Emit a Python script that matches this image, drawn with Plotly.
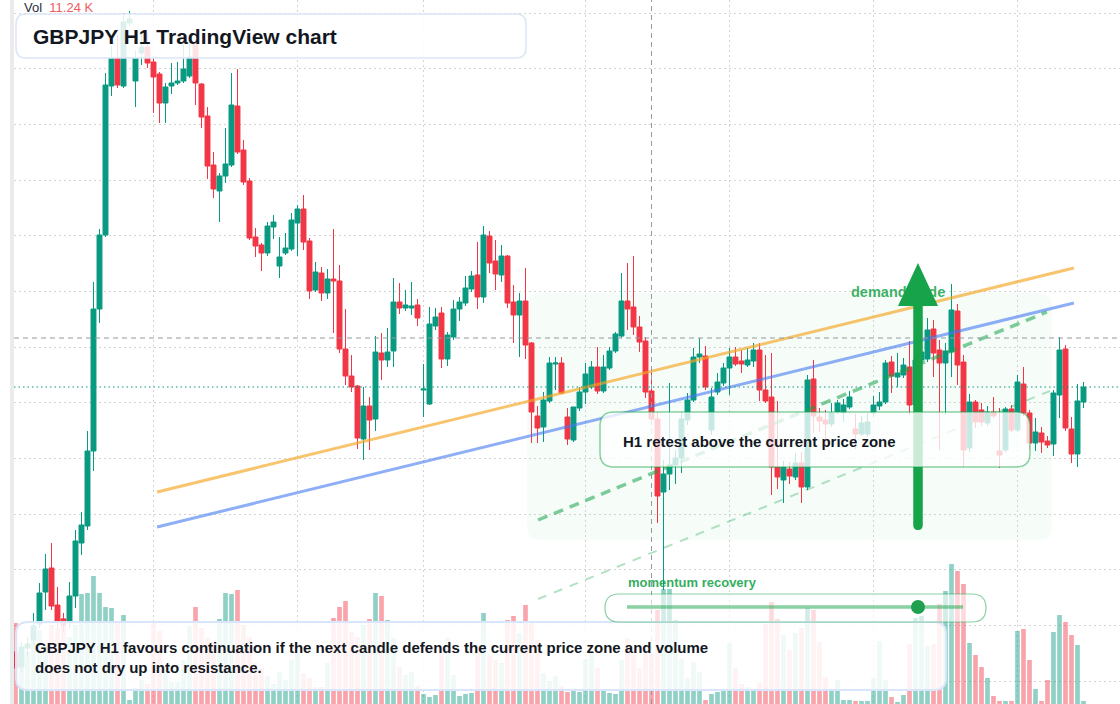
import plotly.graph_objects as go

# ---------------- data (GBPJPY H1) ----------------
OPEN = [200.52, 200.37, 200.56, 200.64, 200.80, 201.12, 201.36, 200.99, 200.85, 200.82,
        201.08, 201.61, 201.78, 202.53, 203.95, 204.69, 206.18, 206.46, 206.18, 206.81,
        206.23, 206.51, 206.57, 206.42, 206.30, 206.01, 206.18, 206.21, 206.23, 206.28,
        206.61, 206.20, 205.88, 205.39, 205.13, 205.28, 205.39, 205.98, 205.54, 205.23,
        204.67, 204.59, 204.51, 204.77, 204.38, 204.51, 204.55, 204.81, 204.95, 204.63,
        204.14, 204.31, 204.11, 204.25, 204.23, 203.55, 203.28, 203.18, 202.65, 202.98,
        202.85, 203.51, 203.44, 203.53, 204.02, 203.96, 203.96, 203.99, 203.14, 203.00,
        203.78, 203.91, 203.45, 203.67, 203.95, 204.01, 204.15, 204.29, 204.07, 204.68,
        204.43, 204.29, 204.48, 204.02, 203.89, 204.03, 203.61, 202.88, 202.77, 203.03,
        203.40, 203.41, 202.87, 202.64, 202.96, 203.12, 203.17, 203.37, 203.13, 203.36,
        203.53, 203.68, 204.03, 203.97, 203.77, 203.63, 203.13, 202.85, 202.12, 202.30,
        202.39, 202.46, 202.84, 203.04, 203.47, 203.48, 202.74, 203.12, 203.21, 203.36,
        203.47, 203.43, 203.39, 203.43, 203.54, 203.14, 203.07, 202.37, 202.24, 202.35,
        202.27, 202.41, 202.17, 203.25, 202.87, 202.84, 202.80, 202.92, 202.91, 202.97,
        202.75, 202.70, 202.70, 202.91, 202.98, 203.02, 203.42, 203.27, 203.29, 203.37,
        202.99, 203.44, 203.45, 203.75, 203.54, 203.41, 203.52, 203.93, 203.42, 202.56,
        203.02, 202.94, 202.81, 202.92, 202.53, 202.54, 202.95, 202.74, 203.20, 202.91,
        202.61, 202.71, 202.63, 202.60, 203.09, 203.55, 202.75, 202.50, 203.02]
HIGH = [200.59, 200.62, 200.67, 200.91, 201.21, 201.50, 201.61, 201.17, 200.91, 201.22,
        201.74, 201.92, 202.73, 204.22, 204.75, 206.31, 206.58, 206.69, 206.91, 206.93,
        206.54, 206.71, 206.71, 206.46, 206.32, 206.21, 206.41, 206.42, 206.61, 206.67,
        206.64, 206.21, 205.97, 205.52, 205.31, 205.76, 206.31, 206.35, 205.64, 205.26,
        204.76, 204.61, 204.82, 204.89, 204.67, 204.71, 204.91, 204.99, 205.09, 204.66,
        204.42, 204.37, 204.35, 204.75, 204.39, 203.95, 203.49, 203.19, 203.17, 203.07,
        203.68, 203.71, 203.76, 204.26, 204.21, 204.14, 204.22, 204.05, 203.40, 203.97,
        203.96, 203.97, 203.72, 204.04, 204.07, 204.28, 204.33, 204.62, 204.78, 204.73,
        204.64, 204.59, 204.49, 204.19, 204.11, 204.36, 203.62, 202.98, 203.12, 203.47,
        203.47, 203.47, 202.96, 202.97, 203.17, 203.41, 203.43, 203.57, 203.49, 203.57,
        203.72, 204.31, 204.41, 204.48, 203.88, 203.67, 203.32, 202.92, 202.44, 203.21,
        202.54, 202.92, 203.11, 203.56, 203.66, 203.58, 203.16, 203.31, 203.41, 203.56,
        203.57, 203.54, 203.56, 203.61, 203.61, 203.49, 203.51, 203.03, 202.43, 202.42,
        202.51, 202.52, 203.29, 203.44, 202.96, 202.94, 203.01, 203.04, 203.05, 203.13,
        202.90, 202.88, 202.91, 203.08, 203.12, 203.44, 203.48, 203.51, 203.46, 203.63,
        203.54, 203.59, 203.86, 203.84, 203.64, 203.61, 204.20, 204.00, 203.49, 203.10,
        203.04, 203.01, 202.98, 203.07, 202.96, 202.97, 202.99, 203.29, 203.37, 202.94,
        202.86, 202.77, 202.68, 203.14, 203.67, 203.59, 202.87, 203.20, 203.22]
LOW = [200.32, 200.32, 200.47, 200.59, 200.76, 200.94, 200.94, 200.76, 200.72, 200.76,
       200.96, 201.49, 201.74, 202.33, 203.81, 204.67, 206.08, 206.16, 206.16, 206.78,
       205.97, 206.39, 206.36, 205.91, 205.81, 205.81, 206.10, 206.19, 206.21, 206.26,
       205.99, 205.76, 205.25, 205.06, 204.82, 205.21, 205.37, 205.50, 205.19, 204.64,
       204.47, 204.33, 204.48, 204.65, 204.26, 204.49, 204.53, 204.48, 204.54, 204.05,
       204.12, 204.03, 204.05, 203.71, 203.51, 203.19, 203.12, 202.55, 202.44, 202.54,
       202.73, 203.24, 203.37, 203.37, 203.90, 203.93, 203.89, 203.78, 202.87, 202.99,
       203.74, 203.36, 203.38, 203.64, 203.83, 203.98, 204.12, 203.95, 204.01, 204.31,
       204.14, 204.22, 203.96, 203.61, 203.47, 203.45, 202.61, 202.61, 202.62, 203.01,
       203.14, 203.10, 202.59, 202.62, 202.93, 203.00, 203.15, 203.10, 203.11, 203.34,
       203.51, 203.66, 203.74, 203.69, 203.52, 203.06, 202.79, 201.81, 201.14, 202.14,
       202.20, 202.31, 202.79, 203.02, 203.41, 203.14, 202.69, 203.09, 203.18, 203.09,
       203.38, 203.31, 203.37, 203.37, 203.03, 203.01, 202.09, 202.15, 202.01, 202.20,
       202.24, 202.01, 202.14, 202.71, 202.72, 202.57, 202.77, 202.90, 202.82, 202.95,
       202.55, 202.68, 202.67, 202.87, 202.94, 203.00, 203.11, 203.17, 203.26, 202.89,
       202.94, 203.36, 203.42, 203.27, 202.54, 202.89, 203.27, 203.19, 202.37, 202.52,
       202.76, 202.78, 202.78, 202.86, 202.36, 202.52, 202.72, 202.72, 202.88, 202.54,
       202.53, 202.51, 202.56, 202.48, 202.86, 202.73, 202.41, 202.37, 202.96]
CLOSE = [200.36, 200.57, 200.60, 200.78, 201.11, 201.35, 200.98, 200.83, 200.79, 201.08,
         201.63, 201.79, 202.53, 203.95, 204.69, 206.19, 206.46, 206.19, 206.82, 206.85,
         206.46, 206.57, 206.41, 206.27, 206.01, 206.17, 206.21, 206.23, 206.35, 206.47,
         206.21, 205.87, 205.38, 205.15, 205.28, 205.40, 205.99, 205.52, 205.22, 204.66,
         204.58, 204.51, 204.78, 204.82, 204.47, 204.56, 204.84, 204.95, 204.62, 204.13,
         204.32, 204.11, 204.25, 204.23, 203.55, 203.28, 203.17, 202.66, 202.98, 202.84,
         203.52, 203.44, 203.52, 204.02, 203.96, 203.99, 203.98, 203.86, 203.15, 203.80,
         203.87, 203.45, 203.69, 203.95, 204.02, 204.16, 204.28, 204.07, 204.69, 204.41,
         204.30, 204.48, 204.01, 203.89, 204.03, 203.59, 202.92, 202.76, 203.04, 203.41,
         203.41, 203.11, 202.65, 202.97, 203.12, 203.30, 203.37, 203.13, 203.37, 203.53,
         203.70, 204.03, 203.95, 203.77, 203.62, 203.12, 202.85, 202.08, 202.30, 202.39,
         202.46, 202.85, 203.04, 203.47, 203.50, 203.17, 203.07, 203.22, 203.36, 203.47,
         203.40, 203.40, 203.44, 203.54, 203.14, 203.03, 202.37, 202.27, 202.37, 202.28,
         202.41, 202.17, 203.24, 202.88, 202.83, 202.80, 202.91, 203.01, 202.99, 203.07,
         202.70, 202.81, 202.82, 202.99, 203.02, 203.41, 203.28, 203.31, 203.39, 202.99,
         203.44, 203.52, 203.74, 203.51, 203.41, 203.53, 203.94, 203.39, 202.54, 203.02,
         202.82, 202.82, 202.92, 202.88, 202.49, 202.95, 202.74, 203.22, 202.91, 202.61,
         202.72, 202.62, 202.59, 203.11, 203.54, 202.76, 202.50, 203.03, 203.17]
VOLUME_K = [8.1, 5.7, 5.2, 7.8, 7.4, 5.9, 7.9, 7.6, 8.6, 6.7,
            7.9, 11.0, 11.1, 12.8, 11.1, 9.7, 9.6, 8.1, 8.9, 0.4,
            1.6, 2.4, 2.0, 8.1, 7.3, 3.7, 2.2, 2.2, 4.4, 7.8,
            9.7, 7.6, 6.6, 6.2, 8.5, 11.1, 11.0, 11.4, 7.9, 6.7,
            4.1, 3.6, 2.8, 2.0, 3.2, 2.4, 4.4, 5.1, 3.1, 2.6,
            1.7, 1.7, 4.1, 8.6, 9.7, 10.3, 7.2, 6.7, 7.9, 8.5,
            11.1, 10.8, 8.4, 6.6, 3.7, 2.9, 3.2, 1.8, 1.0, 0.7,
            0.9, 5.2, 6.6, 2.9, 0.8, 1.0, 1.1, 5.7, 9.1, 4.8,
            4.4, 4.1, 8.4, 8.8, 7.1, 9.9, 8.1, 6.4, 3.1, 2.3,
            2.8, 1.8, 1.2, 1.4, 1.2, 4.5, 5.2, 3.6, 1.3, 1.1,
            1.0, 4.4, 6.6, 4.9, 3.6, 5.1, 5.1, 9.4, 11.5, 11.5,
            8.4, 4.5, 2.6, 4.2, 3.2, 0.4, 1.0, 1.2, 1.4, 6.1,
            3.6, 2.0, 1.7, 1.4, 2.1, 8.0, 10.2, 8.5, 6.9, 5.4,
            7.1, 7.6, 9.6, 9.4, 6.2, 2.7, 1.3, 2.4, 0.4, 0.4,
            0.3, 0.3, 0.3, 2.6, 6.3, 2.4, 0.7, 0.2, 0.9, 6.0,
            8.6, 8.8, 5.8, 6.0, 10.0, 11.3, 14.0, 13.3, 12.0, 6.1,
            4.9, 3.7, 2.6, 0.8, 0.3, 0.3, 0.3, 7.3, 7.5, 4.4,
            1.5, 0.3, 2.4, 7.2, 8.9, 8.2, 6.9, 5.9, 0.3]

SESSION_BARS = [23, 47, 68, 95, 119, 143, 167]      # vertical time grid
CROSSHAIR_BAR = 106
CROSSHAIR_PRICE = 203.66
ORANGE_TREND_X = [23.6, 176.4]
ORANGE_TREND_Y = [202.12, 204.36]
BLUE_TREND_X = [23.6, 176.4]
BLUE_TREND_Y = [201.77, 204.01]
GREEN_DASH_X = [87.1, 171.9]
GREEN_DASH_Y = [201.84, 203.92]
GREEN_LIGHT_X = [87.1, 172.4]
GREEN_LIGHT_Y = [201.05, 203.13]
ZONE_X = [85.25, 172.75]
ZONE_Y = [201.64, 204.11]
DEMAND_AT = [139.25, 204.11]

TITLE = "GBPJPY H1 TradingView chart"
NOTE = ("GBPJPY H1 favours continuation if the next candle defends the current price zone and volume"
        "<br>does not dry up into resistance.")
RETEST = "H1 retest above the current price zone"
MOMENTUM = "momentum recovery"
DEMAND = "demand node"
VOL_VALUE = "11.24 K"

# ---------------- styling / layout ----------------
W, H = 1120, 704
UP, DOWN = "#089981", "#f23645"
UP_VOL, DOWN_VOL = "rgba(8,153,129,0.45)", "rgba(242,54,69,0.45)"
GREEN = "#16a34a"
GRID = "#d3d3d3"
FONT = "Liberation Sans, Arial, Helvetica, sans-serif"
INK = "#131722"


def px(x):
    return x / W


def py(y):
    return 1 - y / H


def rounded_path(x0, y0, x1, y1, rx, ry):
    return (f"M{x0 + rx},{y0} L{x1 - rx},{y0} Q{x1},{y0} {x1},{y0 + ry} "
            f"L{x1},{y1 - ry} Q{x1},{y1} {x1 - rx},{y1} L{x0 + rx},{y1} "
            f"Q{x0},{y1} {x0},{y1 - ry} L{x0},{y0 + ry} Q{x0},{y0} {x0 + rx},{y0} Z")


def paper_box(left, top, right, bottom, r):
    return rounded_path(px(left), py(bottom), px(right), py(top), r / W, r / H)


bars = list(range(len(OPEN)))
vol_colors = [UP_VOL if c >= o else DOWN_VOL for o, c in zip(OPEN, CLOSE)]

fig = go.Figure()
fig.add_trace(go.Bar(x=bars, y=VOLUME_K, marker=dict(color=vol_colors, line_width=0),
                     yaxis="y", hoverinfo="skip"))
fig.add_trace(go.Candlestick(
    x=bars, open=OPEN, high=HIGH, low=LOW, close=CLOSE, yaxis="y2",
    increasing=dict(line=dict(color=UP, width=1), fillcolor=UP),
    decreasing=dict(line=dict(color=DOWN, width=1), fillcolor=DOWN),
    whiskerwidth=0, hoverinfo="skip"))
fig.add_trace(go.Scatter(
    x=[DEMAND_AT[0]], y=[DEMAND_AT[1]], mode="text", text=[DEMAND],
    textposition="middle right", yaxis="y2", hoverinfo="skip",
    textfont=dict(family=FONT, size=14.5, color="rgba(22,163,74,0.85)", weight="bold")))

shapes = []
# left scale strip
shapes.append(dict(type="rect", xref="paper", yref="paper", x0=px(10), x1=px(14), y0=0, y1=1,
                   fillcolor="#ebebeb", line_width=0, layer="below"))
# demand zone
shapes.append(dict(type="path", xref="x", yref="y2", layer="below",
                   path=rounded_path(ZONE_X[0], ZONE_Y[0], ZONE_X[1], ZONE_Y[1], 2.3, 0.14),
                   fillcolor="rgba(34,197,94,0.038)", line_width=0))
# trend lines
shapes.append(dict(type="line", xref="x", yref="y2", x0=ORANGE_TREND_X[0], x1=ORANGE_TREND_X[1],
                   y0=ORANGE_TREND_Y[0], y1=ORANGE_TREND_Y[1],
                   line=dict(color="rgba(245,166,35,0.66)", width=3)))
shapes.append(dict(type="line", xref="x", yref="y2", x0=BLUE_TREND_X[0], x1=BLUE_TREND_X[1],
                   y0=BLUE_TREND_Y[0], y1=BLUE_TREND_Y[1],
                   line=dict(color="rgba(66,120,240,0.6)", width=3)))
shapes.append(dict(type="line", xref="x", yref="y2", x0=GREEN_DASH_X[0], x1=GREEN_DASH_X[1],
                   y0=GREEN_DASH_Y[0], y1=GREEN_DASH_Y[1],
                   line=dict(color="rgba(22,163,74,0.55)", width=3.5, dash="10px,7px")))
shapes.append(dict(type="line", xref="x", yref="y2", x0=GREEN_LIGHT_X[0], x1=GREEN_LIGHT_X[1],
                   y0=GREEN_LIGHT_Y[0], y1=GREEN_LIGHT_Y[1],
                   line=dict(color="rgba(22,163,74,0.32)", width=2, dash="9px,8px")))
# crosshair + last price line
shapes.append(dict(type="line", xref="x", yref="paper", x0=CROSSHAIR_BAR, x1=CROSSHAIR_BAR, y0=0, y1=1,
                   line=dict(color="#9598a1", width=1, dash="5px,4px")))
shapes.append(dict(type="line", xref="paper", yref="y2", x0=px(14), x1=1,
                   y0=CROSSHAIR_PRICE, y1=CROSSHAIR_PRICE,
                   line=dict(color="#9598a1", width=1, dash="5px,4px")))
shapes.append(dict(type="line", xref="paper", yref="y2", x0=px(14), x1=1,
                   y0=CLOSE[-1], y1=CLOSE[-1],
                   line=dict(color=UP, width=1.2, dash="1.5px,3px")))
# arrow
arrow = (f"M{px(913.25)},{py(306)} L{px(913.25)},{py(525.25)} Q{px(913.25)},{py(530)} {px(918)},{py(530)} "
         f"Q{px(922.75)},{py(530)} {px(922.75)},{py(525.25)} L{px(922.75)},{py(306)} Z "
         f"M{px(898)},{py(306)} L{px(938)},{py(306)} L{px(918)},{py(263)} Z")
shapes.append(dict(type="path", xref="paper", yref="paper", path=arrow, fillcolor=GREEN, line_width=0))
# boxes
shapes.append(dict(type="path", xref="paper", yref="paper", path=paper_box(600, 412, 1030, 467, 14),
                   fillcolor="rgba(255,255,255,0.78)", line=dict(color="rgba(22,163,74,0.5)", width=1.5)))
shapes.append(dict(type="path", xref="paper", yref="paper", path=paper_box(16, 14, 526, 58, 10),
                   fillcolor="rgba(255,255,255,0.86)", line=dict(color="#dbe5f7", width=1.5)))
shapes.append(dict(type="path", xref="paper", yref="paper", path=paper_box(16, 622, 946, 690, 12),
                   fillcolor="rgba(255,255,255,0.86)", line=dict(color="#d8e5fb", width=2)))
shapes.append(dict(type="path", xref="paper", yref="paper", path=paper_box(605, 594, 986, 622, 14),
                   fillcolor="rgba(255,255,255,0.6)", line=dict(color="rgba(22,163,74,0.5)", width=1.2)))
shapes.append(dict(type="line", xref="paper", yref="paper", x0=px(627), x1=px(963), y0=py(607), y1=py(607),
                   line=dict(color="rgba(22,163,74,0.5)", width=3.5)))
shapes.append(dict(type="circle", xref="paper", yref="paper", x0=px(911), x1=px(925), y0=py(614), y1=py(600),
                   fillcolor="#1ea04e", line_width=0))

annotations = [
    dict(x=px(22), y=py(8), text=f"Vol&nbsp;&nbsp;<span style='color:#f15b60'>{VOL_VALUE}</span>",
         font=dict(family=FONT, size=13, color="#2a2e39")),
    dict(x=px(31), y=py(36), text=TITLE, font=dict(family=FONT, size=21, color=INK, weight="bold")),
    dict(x=px(621), y=py(441), text=RETEST, font=dict(family=FONT, size=15, color=INK, weight="bold")),
    dict(x=px(33), y=py(657), text=NOTE, align="left",
         font=dict(family=FONT, size=15, color=INK, weight="bold")),
    dict(x=px(626), y=py(582), text=MOMENTUM,
         font=dict(family=FONT, size=13, color="rgba(22,163,74,0.9)", weight="bold")),
]
for a in annotations:
    a.update(xref="paper", yref="paper", xanchor="left", yanchor="middle", showarrow=False)

fig.update_layout(
    width=W, height=H, margin=dict(l=0, r=0, t=0, b=0),
    paper_bgcolor="white", plot_bgcolor="white", showlegend=False,
    bargap=0.22, boxgap=0.18, boxgroupgap=0, hovermode=False,
    xaxis=dict(domain=[px(14), 1], range=[-0.25, 184.083], tickvals=SESSION_BARS,
               showticklabels=False, ticks="", showgrid=True, gridcolor=GRID, griddash="2px,3px",
               gridwidth=1, zeroline=False, showline=False, rangeslider=dict(visible=False),
               automargin=False),
    yaxis=dict(range=[0, 70.4], visible=False, automargin=False),
    yaxis2=dict(range=[200.0, 207.04], overlaying="y", showgrid=True, gridcolor=GRID,
                griddash="2px,3px", gridwidth=1, tick0=206.91, dtick=0.5567,
                showticklabels=False, ticks="", zeroline=False, showline=False, automargin=False),
    shapes=shapes, annotations=annotations,
)

fig.write_html("out.html")
